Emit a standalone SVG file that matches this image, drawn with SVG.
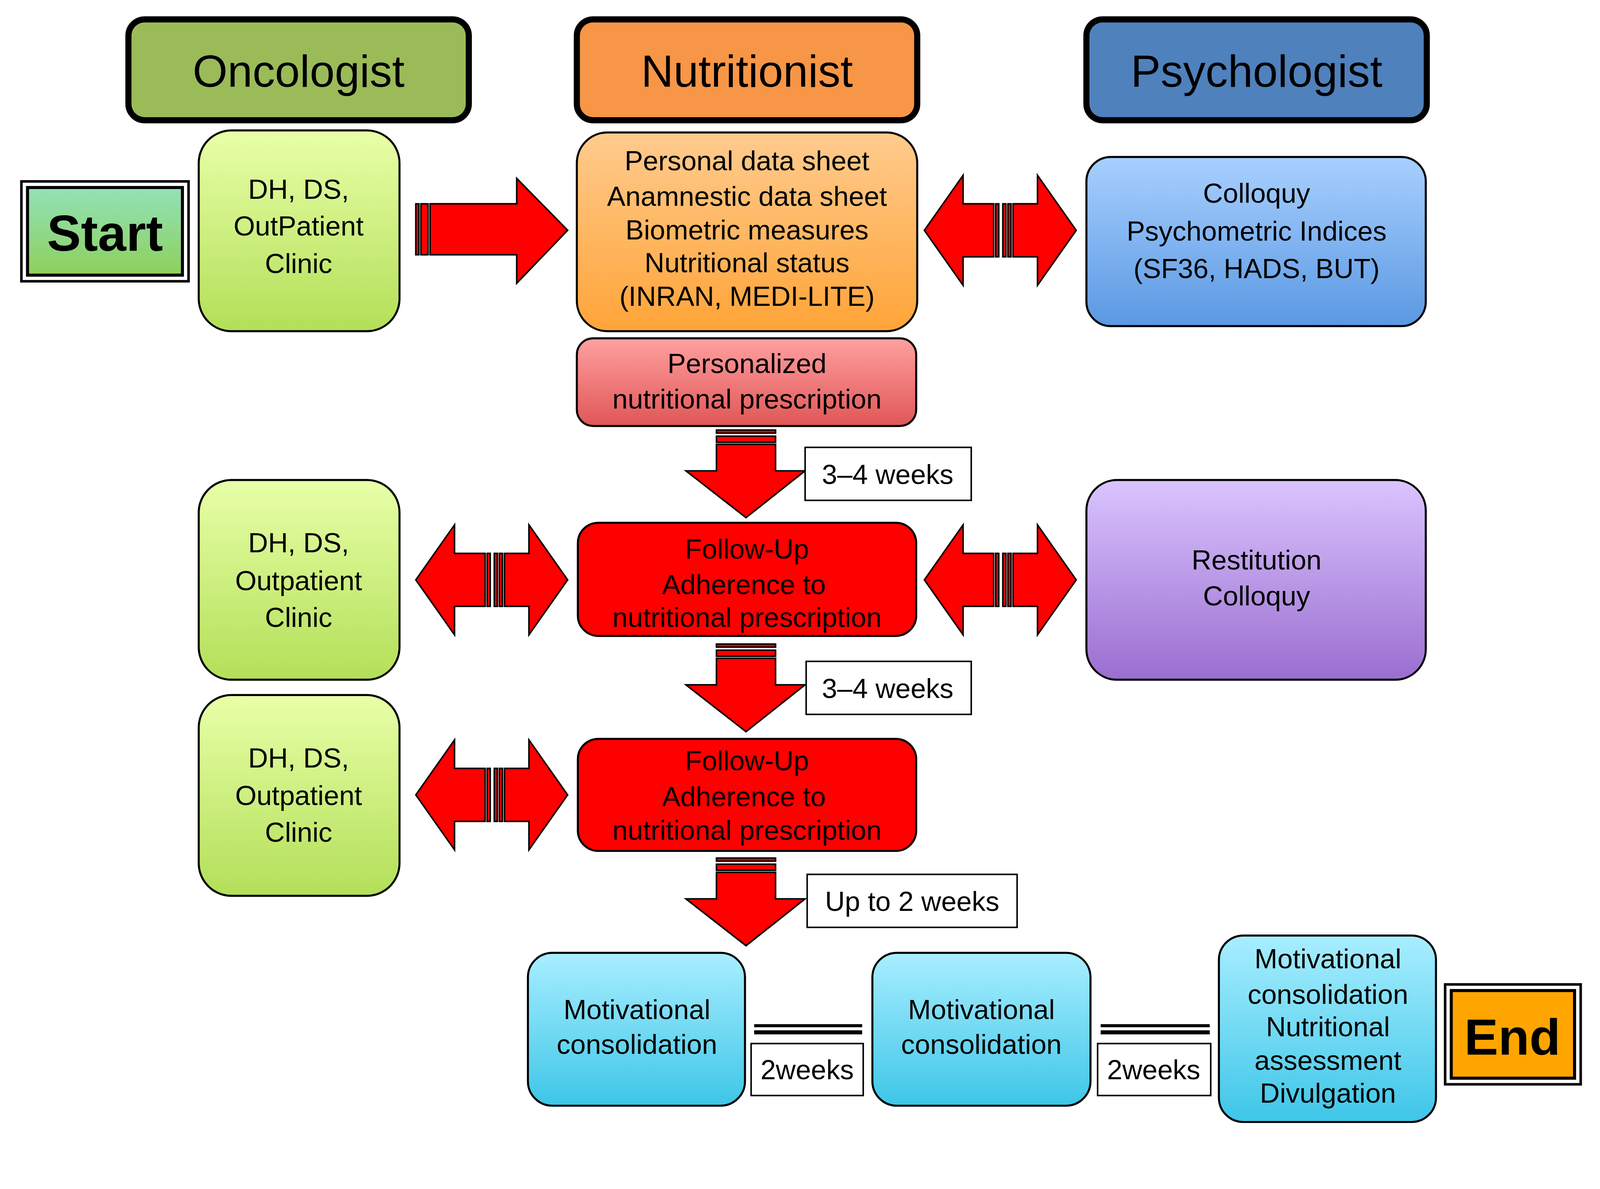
<svg xmlns="http://www.w3.org/2000/svg" width="4253" height="3044" viewBox="0 0 4253 3044">
<style>
text{font-family:"Liberation Sans",Arial,sans-serif;fill:#000;text-anchor:middle}
.t{font-size:27px}
.h{font-size:44px}
.ar{fill:#FF0000;stroke:#000;stroke-width:1.5}
.lb{fill:#fff;stroke:#000;stroke-width:1.5}
.bx{stroke:#000;stroke-width:2}
</style>
<defs>
<linearGradient id="gl" x1="0" y1="0" x2="0" y2="1"><stop offset="0" stop-color="#E8FFA8"/><stop offset="1" stop-color="#B3DF58"/></linearGradient>
<linearGradient id="go" x1="0" y1="0" x2="0" y2="1"><stop offset="0" stop-color="#FFCB8E"/><stop offset="1" stop-color="#FFA438"/></linearGradient>
<linearGradient id="gb" x1="0" y1="0" x2="0" y2="1"><stop offset="0" stop-color="#A8D0FF"/><stop offset="1" stop-color="#5A98E2"/></linearGradient>
<linearGradient id="gp" x1="0" y1="0" x2="0" y2="1"><stop offset="0" stop-color="#FFA0A0"/><stop offset="1" stop-color="#E05656"/></linearGradient>
<linearGradient id="gv" x1="0" y1="0" x2="0" y2="1"><stop offset="0" stop-color="#DAC4FF"/><stop offset="1" stop-color="#9A6ED0"/></linearGradient>
<linearGradient id="gc" x1="0" y1="0" x2="0" y2="1"><stop offset="0" stop-color="#A8EEFF"/><stop offset="1" stop-color="#3EC6E8"/></linearGradient>
<linearGradient id="gs" x1="0" y1="0" x2="0" y2="1"><stop offset="0" stop-color="#92E2B8"/><stop offset="1" stop-color="#8ED05C"/></linearGradient>
<g id="down">
<rect class="ar" x="703" y="422" width="58" height="3"/><rect class="ar" x="703" y="428" width="58" height="6"/>
<path class="ar" d="M703,436 H761 V462 H790 L732,508 L673,462 H703 Z"/>
</g>
<g id="dbl">
<path class="ar" d="M975,200 V252 H945 V280 L907,226 L945,172 V200 Z"/>
<rect class="ar" x="977" y="200" width="3" height="52"/>
<rect class="ar" x="984" y="200" width="3" height="52"/><rect class="ar" x="989" y="200" width="3" height="52"/>
<path class="ar" d="M994,200 H1018 V172 L1056,226 L1018,280 V252 H994 Z"/>
</g>
</defs>
<rect width="4253" height="3044" fill="#fff"/>
<g transform="scale(2.609)">
<g id="connectors">
<rect class="ar" x="408" y="200" width="3" height="50"/><rect class="ar" x="413" y="200" width="7" height="50"/>
<path class="ar" d="M422,200 H507 V175 L557,226 L507,278 V250 H422 Z"/>
<use href="#dbl"/>
<use href="#dbl" transform="translate(0,343)"/>
<use href="#dbl" transform="translate(-499,343)"/>
<use href="#dbl" transform="translate(-499,554)"/>
<use href="#down"/>
<use href="#down" transform="translate(0,210)"/>
<use href="#down" transform="translate(0,420)"/>
<rect class="lb" x="790" y="439" width="163" height="52"/><text class="t" x="871" y="475">3–4 weeks</text>
<rect class="lb" x="791" y="649" width="162" height="52"/><text class="t" x="871" y="685">3–4 weeks</text>
<rect class="lb" x="792" y="858" width="206" height="52"/><text class="t" x="895" y="894">Up to 2 weeks</text>
<rect x="740" y="1005" width="106" height="3" fill="#000"/><rect x="740" y="1011" width="106" height="4" fill="#000"/>
<rect x="1080" y="1005" width="107" height="3" fill="#000"/><rect x="1080" y="1011" width="107" height="4" fill="#000"/>
<rect class="lb" x="737" y="1024" width="110" height="51"/><text class="t" x="792" y="1059">2weeks</text>
<rect class="lb" x="1077" y="1024" width="111" height="51"/><text class="t" x="1132" y="1059">2weeks</text>
</g>
<g id="h-onc"><rect x="126" y="19" width="334" height="99" rx="16" fill="#9BBB59" stroke="#000" stroke-width="6"/><text class="h" x="293" y="85">Oncologist</text></g>
<g id="h-nut"><rect x="566" y="19" width="334" height="99" rx="16" fill="#F79646" stroke="#000" stroke-width="6"/><text class="h" x="733" y="85">Nutritionist</text></g>
<g id="h-psy"><rect x="1066" y="19" width="334" height="99" rx="16" fill="#4F81BD" stroke="#000" stroke-width="6"/><text class="h" x="1233" y="85">Psychologist</text></g>
<g id="start"><rect x="21" y="178" width="164" height="98" fill="#fff" stroke="#000" stroke-width="2.5"/><rect x="27" y="184" width="152" height="86" fill="url(#gs)" stroke="#000" stroke-width="3"/><text x="103" y="246" style="font-size:50px;font-weight:bold">Start</text></g>
<g id="dh1"><rect class="bx" x="195" y="128" width="197" height="197" rx="32" fill="url(#gl)"/><text class="t" x="293" y="195">DH, DS,</text><text class="t" x="293" y="231">OutPatient</text><text class="t" x="293" y="268">Clinic</text></g>
<g id="data"><rect class="bx" x="566" y="130" width="334" height="195" rx="30" fill="url(#go)"/>
<text class="t" x="733" y="167">Personal data sheet</text><text class="t" x="733" y="202">Anamnestic data sheet</text><text class="t" x="733" y="235">Biometric measures</text><text class="t" x="733" y="267">Nutritional status</text><text class="t" x="733" y="300">(INRAN, MEDI-LITE)</text></g>
<g id="psy1"><rect class="bx" x="1066" y="154" width="333" height="166" rx="24" fill="url(#gb)"/><text class="t" x="1233" y="199">Colloquy</text><text class="t" x="1233" y="236">Psychometric Indices</text><text class="t" x="1233" y="273">(SF36, HADS, BUT)</text></g>
<g id="pers"><rect class="bx" x="566" y="332" width="333" height="86" rx="16" fill="url(#gp)"/><text class="t" x="733" y="366">Personalized</text><text class="t" x="733" y="401">nutritional prescription</text></g>
<g id="fu1"><rect class="bx" x="567" y="513" width="332" height="111" rx="20" fill="#FF0000"/><text class="t" x="733" y="548">Follow-Up</text><text class="t" x="730" y="583">Adherence to</text><text class="t" x="733" y="615">nutritional prescription</text></g>
<g id="dh2"><rect class="bx" x="195" y="471" width="197" height="196" rx="32" fill="url(#gl)"/><text class="t" x="293" y="542">DH, DS,</text><text class="t" x="293" y="579">Outpatient</text><text class="t" x="293" y="615">Clinic</text></g>
<g id="rest"><rect class="bx" x="1066" y="471" width="333" height="196" rx="30" fill="url(#gv)"/><text class="t" x="1233" y="559">Restitution</text><text class="t" x="1233" y="594">Colloquy</text></g>
<g id="dh3"><rect class="bx" x="195" y="682" width="197" height="197" rx="32" fill="url(#gl)"/><text class="t" x="293" y="753">DH, DS,</text><text class="t" x="293" y="790">Outpatient</text><text class="t" x="293" y="826">Clinic</text></g>
<g id="fu2"><rect class="bx" x="567" y="725" width="332" height="110" rx="20" fill="#FF0000"/><text class="t" x="733" y="756">Follow-Up</text><text class="t" x="730" y="791">Adherence to</text><text class="t" x="733" y="824">nutritional prescription</text></g>
<g id="mc1"><rect class="bx" x="518" y="935" width="213" height="150" rx="24" fill="url(#gc)"/><text class="t" x="625" y="1000">Motivational</text><text class="t" x="625" y="1034">consolidation</text></g>
<g id="mc2"><rect class="bx" x="856" y="935" width="214" height="150" rx="24" fill="url(#gc)"/><text class="t" x="963" y="1000">Motivational</text><text class="t" x="963" y="1034">consolidation</text></g>
<g id="mc3"><rect class="bx" x="1196" y="918" width="213" height="183" rx="24" fill="url(#gc)"/><text class="t" x="1303" y="950">Motivational</text><text class="t" x="1303" y="985">consolidation</text><text class="t" x="1303" y="1017">Nutritional</text><text class="t" x="1303" y="1050">assessment</text><text class="t" x="1303" y="1082">Divulgation</text></g>
<g id="end"><rect x="1418" y="966" width="133" height="98" fill="#fff" stroke="#000" stroke-width="2.5"/><rect x="1424" y="972" width="121" height="86" fill="#FFA500" stroke="#000" stroke-width="3"/><text x="1484" y="1035" style="font-size:50px;font-weight:bold">End</text></g>
</g>
</svg>
